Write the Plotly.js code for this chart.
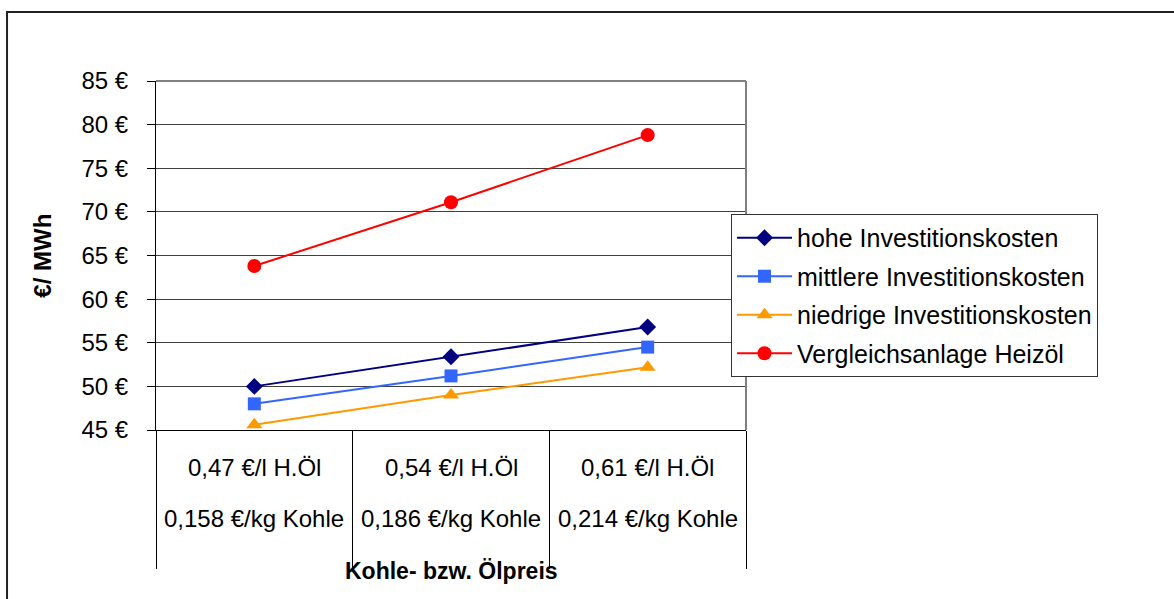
<!DOCTYPE html>
<html>
<head>
<meta charset="utf-8">
<script src="https://cdn.plot.ly/plotly-3.0.1.min.js"></script>
<style>
  html, body { margin: 0; padding: 0; background: #fff; }
  #chart { width: 1174px; height: 599px; }
</style>
</head>
<body>
<div id="chart"></div>
<script>
// ---- data ----
const oilPrices = ["0,47 €/l H.Öl", "0,54 €/l H.Öl", "0,61 €/l H.Öl"];
const coalPrices = ["0,158 €/kg Kohle", "0,186 €/kg Kohle", "0,214 €/kg Kohle"];
const seriesNames = ["hohe Investitionskosten", "mittlere Investitionskosten", "niedrige Investitionskosten", "Vergleichsanlage Heizöl"];
const hoheValues = [50.0, 53.4, 56.8];
const mittlereValues = [48.0, 51.2, 54.5];
const niedrigeValues = [45.6, 49.0, 52.2];
const vergleichValues = [63.8, 71.1, 78.8];
const yTickValues = [45, 50, 55, 60, 65, 70, 75, 80, 85];
const xTitle = "Kohle- bzw. Ölpreis";
const yTitle = "€/ MWh";

const FONT = "Liberation Sans, Arial, sans-serif";
const categories = oilPrices.map((o, i) => o + " / " + coalPrices[i]);

const styles = [
  { color: "#000080", symbol: "diamond", size: 13 },
  { color: "#3366FF", symbol: "square", size: 13 },
  { color: "#FF9900", symbol: "triangle-up", size: 14 },
  { color: "#FF0000", symbol: "circle", size: 14 }
];
const allValues = [hoheValues, mittlereValues, niedrigeValues, vergleichValues];

const traces = allValues.map((vals, k) => ({
  type: "scatter",
  mode: "lines+markers",
  name: seriesNames[k],
  legendgroup: "g" + k,
  x: categories,
  y: vals,
  line: { color: styles[k].color, width: 2 },
  marker: { color: styles[k].color, symbol: styles[k].symbol, size: styles[k].size, line: { width: 0 } },
  cliponaxis: false
}));

const annotations = [];
categories.forEach((c, i) => {
  annotations.push({ xref: "x", yref: "paper", x: c, y: 0, yanchor: "middle", yshift: -37,
    text: oilPrices[i], showarrow: false, font: { family: FONT, size: 24, color: "#000" } });
  annotations.push({ xref: "x", yref: "paper", x: c, y: 0, yanchor: "middle", yshift: -88,
    text: coalPrices[i], showarrow: false, font: { family: FONT, size: 24, color: "#000" } });
});
annotations.push({ xref: "paper", yref: "paper", x: 0.5, y: 0, yanchor: "middle", yshift: -141,
  text: "<b>" + xTitle + "</b>", showarrow: false, font: { family: FONT, size: 23, color: "#000" } });
annotations.push({ xref: "paper", yref: "paper", x: -0.193, y: 0.5, xanchor: "center", yanchor: "middle",
  textangle: -90, text: "<b>" + yTitle + "</b>", showarrow: false, font: { family: FONT, size: 24, color: "#000" } });

const layout = {
  width: 1174,
  height: 599,
  margin: { l: 156, r: 428, t: 81, b: 169 },
  paper_bgcolor: "#fff",
  plot_bgcolor: "#fff",
  font: { family: FONT, size: 24, color: "#000" },
  showlegend: true,
  legend: {
    x: 0.9746, y: 0.619, xanchor: "left", yanchor: "top",
    bgcolor: "#fff", bordercolor: "#333", borderwidth: 1,
    font: { family: FONT, size: 25, color: "#000" },
    itemwidth: 55,
    traceorder: "grouped", tracegroupgap: 3
  },
  xaxis: {
    type: "category",
    range: [-0.5, 2.5],
    tickson: "boundaries",
    ticks: "outside", ticklen: 138, tickwidth: 1, tickcolor: "#000",
    showticklabels: false,
    showgrid: false, zeroline: false,
    showline: true, linecolor: "#000", linewidth: 1,
    fixedrange: true
  },
  yaxis: {
    range: [45, 85],
    tickvals: yTickValues,
    ticktext: yTickValues.map(v => v + " €"),
    ticks: "outside", ticklen: 8, tickwidth: 1, tickcolor: "#000",
    ticklabelstandoff: 14,
    tickfont: { family: FONT, size: 24, color: "#000" },
    showgrid: true, gridcolor: "#404040", gridwidth: 1,
    zeroline: false,
    showline: true, linecolor: "#000", linewidth: 1,
    fixedrange: true
  },
  shapes: [
    { type: "rect", xref: "paper", yref: "paper", x0: -0.2525, x1: 2.2, y0: -1, y1: 1.1977,
      line: { color: "#222", width: 2 }, fillcolor: "rgba(0,0,0,0)", layer: "below" },
    { type: "line", xref: "paper", yref: "paper", x0: 0, x1: 1, y0: 1, y1: 1,
      line: { color: "#808080", width: 2 }, layer: "above" },
    { type: "line", xref: "paper", yref: "paper", x0: 1, x1: 1, y0: 0, y1: 1,
      line: { color: "#808080", width: 2 }, layer: "above" }
  ],
  annotations: annotations
};

Plotly.newPlot("chart", traces, layout, { displayModeBar: false, staticPlot: true });
</script>
</body>
</html>
